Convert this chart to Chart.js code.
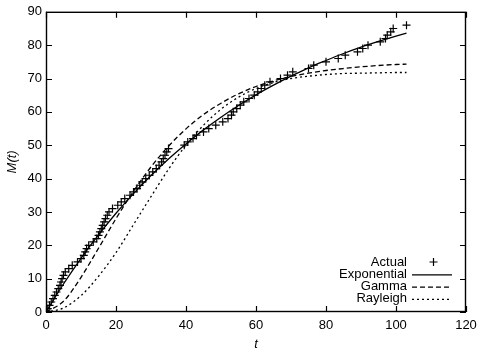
<!DOCTYPE html>
<html lang="en">
<head>
  <meta charset="UTF-8">
  <title>M(t) fits</title>
  <script src="https://cdn.jsdelivr.net/npm/chart.js"></script>
  <style>
    body { margin: 0; background: #fff; }
    #wrap { width: 484px; height: 361px; }
  </style>
</head>
<body>
  <div id="wrap"><canvas id="chart" width="484" height="361"></canvas></div>

  <script>
    // observed failures (t, M)
    const actualT = [0.5, 1, 1.5, 2, 2.5, 3, 3.5, 4, 4.3, 4.6, 5, 5.5, 6.5, 7.5, 9, 10, 10.8, 11.2, 11.6, 12.2,
      13.5, 14.5, 15, 15.4, 15.8, 16.2, 16.6, 17, 17.5, 18, 19, 20.5, 21.5, 22.5, 24, 25, 26, 26.8, 27.5, 28.5,
      29.5, 30.5, 31.5, 32.3, 33, 33.5, 34, 34.5, 35, 39.5, 40.5, 42, 43, 45, 46.5, 48.5, 50.5, 52, 53, 53.5,
      54.5, 55.5, 56.5, 58, 59.5, 60.5, 61.5, 62.5, 64, 67, 69, 70.5, 75, 76.5, 80, 83.5, 85.5, 89, 90.5, 92,
      95.5, 97, 97.5, 98.5, 99.2, 103];
    const actualM = [1, 2, 3, 4, 5, 6, 7, 8, 9, 10, 11, 12, 13, 14, 15, 16, 17, 18, 19, 20,
      21, 22, 23, 24, 25, 26, 27, 28, 29, 30, 31, 32, 33, 34, 35, 36, 37, 38, 39, 40,
      41, 42, 43, 44, 45, 46, 47, 48, 49, 50, 51, 52, 53, 54, 55, 56, 57, 58, 59, 60,
      61, 62, 63, 64, 65, 66, 67, 68, 69, 70, 71, 72, 73, 74, 75, 76, 77, 78, 79, 80,
      81, 82, 83, 84, 85, 86];

    // fitted curves, read at these t values
    const curveT = [0, 5, 10, 15, 20, 25, 30, 35, 40, 45, 50, 55, 60, 65, 70, 75, 80, 85, 90, 95, 100, 103];
    const expoM = [0, 8.4, 16.1, 23.1, 29.6, 35.5, 40.9, 45.9, 50.4, 54.6, 58.4, 61.9, 65.1, 68.0, 70.7, 73.2,
      75.4, 77.5, 79.4, 81.1, 82.7, 83.6];
    const gammaM = [0, 3.2, 10.4, 19.1, 28.0, 36.2, 43.5, 49.7, 54.9, 59.2, 62.6, 65.4, 67.6, 69.3, 70.6, 71.6,
      72.4, 73.0, 73.5, 73.9, 74.2, 74.3];
    const rayleighM = [0, 1.2, 4.9, 10.7, 17.8, 26.2, 34.6, 42.8, 50.0, 56.0, 60.8, 64.4, 67.0, 68.8, 70.0, 70.7,
      71.2, 71.5, 71.6, 71.7, 71.8, 71.8];

    const xTicks = [0, 20, 40, 60, 80, 100, 120];
    const yTicks = [0, 10, 20, 30, 40, 50, 60, 70, 80, 90];

    const legendItems = ["Actual", "Exponential", "Gamma", "Rayleigh"];

    function pts(xs, ys) {
      return xs.map((x, i) => ({ x: x, y: ys[i] }));
    }

    const FONT = "Liberation Sans, Arial, sans-serif";

    // box, inward ticks on all four sides, and the key
    const frame = {
      id: "frame",
      afterDraw(chart) {
        const ctx = chart.ctx;
        const a = chart.chartArea;
        const xs = chart.scales.x, ys = chart.scales.y;
        ctx.save();
        ctx.strokeStyle = "#000";
        ctx.lineWidth = 1.4;
        ctx.strokeRect(a.left + 0.5, a.top + 0.5, a.right - a.left - 1, a.bottom - a.top - 1);
        ctx.lineWidth = 1.2;
        ctx.beginPath();
        xTicks.forEach(v => {
          const px = Math.round(xs.getPixelForValue(v)) + 0.5;
          ctx.moveTo(px, a.bottom); ctx.lineTo(px, a.bottom - 6);
          ctx.moveTo(px, a.top); ctx.lineTo(px, a.top + 6);
        });
        yTicks.forEach(v => {
          const py = Math.round(ys.getPixelForValue(v)) + 0.5;
          ctx.moveTo(a.left, py); ctx.lineTo(a.left + 6, py);
          ctx.moveTo(a.right, py); ctx.lineTo(a.right - 6, py);
        });
        ctx.stroke();

        // legend
        ctx.lineWidth = 1.2;
        ctx.font = "13px " + FONT;
        ctx.fillStyle = "#000";
        ctx.textAlign = "right";
        ctx.textBaseline = "middle";
        const styles = [null, [], [5, 3], [2, 3]];
        legendItems.forEach((name, i) => {
          const y = 262 + i * 12.3;
          ctx.fillText(name, 407, y);
          ctx.beginPath();
          if (i === 0) {
            ctx.setLineDash([]);
            ctx.moveTo(433.5, y - 4); ctx.lineTo(433.5, y + 4);
            ctx.moveTo(429.5, y); ctx.lineTo(437.5, y);
          } else {
            ctx.setLineDash(styles[i]);
            ctx.moveTo(412, y + 0.5); ctx.lineTo(452, y + 0.5);
          }
          ctx.stroke();
        });
        ctx.restore();
      }
    };

    new Chart(document.getElementById("chart"), {
      type: "scatter",
      data: {
        datasets: [
          {
            label: "Actual",
            data: pts(actualT, actualM),
            pointStyle: "cross",
            pointRadius: 4,
            borderColor: "#000",
            borderWidth: 1.2,
            showLine: false
          },
          {
            label: "Exponential",
            data: pts(curveT, expoM),
            showLine: true,
            borderColor: "#000",
            borderWidth: 1.3,
            pointRadius: 0,
            cubicInterpolationMode: "monotone"
          },
          {
            label: "Gamma",
            data: pts(curveT, gammaM),
            showLine: true,
            borderColor: "#000",
            borderWidth: 1.3,
            borderDash: [5, 3],
            pointRadius: 0,
            cubicInterpolationMode: "monotone"
          },
          {
            label: "Rayleigh",
            data: pts(curveT, rayleighM),
            showLine: true,
            borderColor: "#000",
            borderWidth: 1.3,
            borderDash: [2, 3],
            pointRadius: 0,
            cubicInterpolationMode: "monotone"
          }
        ]
      },
      options: {
        responsive: false,
        animation: false,
        layout: { padding: { top: 11, right: 18, left: 0, bottom: 0 } },
        plugins: {
          legend: { display: false },
          tooltip: { enabled: false }
        },
        scales: {
          x: {
            type: "linear",
            min: 0,
            max: 120,
            afterBuildTicks: s => { s.ticks = xTicks.map(v => ({ value: v })); },
            afterFit: s => { s.height = 49; },
            grid: { display: false, drawTicks: false },
            border: { display: false },
            ticks: { color: "#000", padding: 6, font: { family: FONT, size: 13 } },
            title: {
              display: true,
              text: "t",
              color: "#000",
              padding: { top: 4, bottom: 9 },
              font: { family: FONT, size: 13, style: "italic" }
            }
          },
          y: {
            type: "linear",
            min: 0,
            max: 90,
            afterBuildTicks: s => { s.ticks = yTicks.map(v => ({ value: v })); },
            afterFit: s => { s.width = 46; },
            grid: { display: false, drawTicks: false },
            border: { display: false },
            ticks: { color: "#000", padding: 4, font: { family: FONT, size: 13 } },
            title: {
              display: true,
              text: "M(t)",
              color: "#000",
              padding: { top: 5, bottom: 4 },
              font: { family: FONT, size: 13, style: "italic" }
            }
          }
        }
      },
      plugins: [frame]
    });
  </script>
</body>
</html>
